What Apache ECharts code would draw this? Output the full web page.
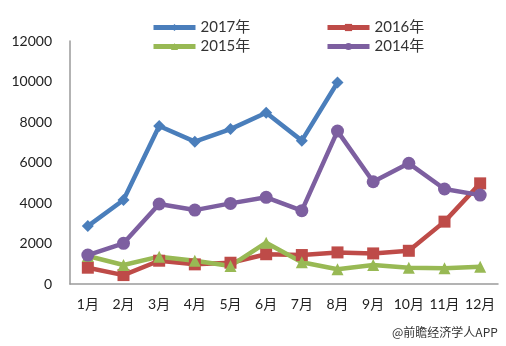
<!DOCTYPE html>
<html><head><meta charset="utf-8">
<script src="https://cdn.jsdelivr.net/npm/echarts@6/dist/echarts.min.js"></script>
<style>html,body{margin:0;padding:0;background:#fff}#c{width:506px;height:346px}</style>
</head><body><div id="c"></div>
<script>
var categories = ['1月','2月','3月','4月','5月','6月','7月','8月','9月','10月','11月','12月'];
var s2017 = [2860, 4150, 7800, 7030, 7650, 8460, 7080, 9950];
var s2016 = [805, 440, 1150, 970, 1050, 1470, 1430, 1560, 1510, 1640, 3080, 4970];
var s2015 = [1380, 940, 1350, 1150, 890, 2040, 1070, 725, 940, 805, 775, 855];
var s2014 = [1430, 2010, 3950, 3650, 3980, 4280, 3620, 7550, 5050, 5960, 4690, 4390];
var names = ['2017年','2016年','2015年','2014年'];
var yTicks = {min: 0, max: 12000, interval: 2000};

var font = 'Lato, "Noto Sans CJK SC", sans-serif';
var chart = echarts.init(document.getElementById('c'));
function mkLegend(name, left, top) {
  return {data: [name], left: left, top: top, itemWidth: 42, itemHeight: 9, itemGap: 4,
    lineStyle: {width: 5},
    textStyle: {fontFamily: font, fontSize: 15, color: '#333'}};
}
function ser(name, data, color, symbol, size) {
  return {name: name, type: 'line', data: data, symbol: symbol, symbolSize: size,
    lineStyle: {width: 4.5, color: color}, itemStyle: {color: color}, animation: false};
}
chart.setOption({
  animation: false,
  legend: [mkLegend(names[0], 146, 15), mkLegend(names[1], 320, 15), mkLegend(names[2], 146, 34), mkLegend(names[3], 320, 34)],
  grid: {left: 70, right: 8, top: 41, bottom: 62},
  xAxis: {type: 'category', data: categories, boundaryGap: true,
    axisLine: {lineStyle: {color: '#9a9a9a', width: 1.5}}, axisTick: {show: false},
    axisLabel: {fontFamily: font, fontSize: 14, color: '#222', margin: 13, interval: 0}},
  yAxis: {type: 'value', min: yTicks.min, max: yTicks.max, interval: yTicks.interval,
    splitLine: {show: false},
    axisLine: {show: true, lineStyle: {color: '#9a9a9a', width: 1.5}}, axisTick: {show: false},
    axisLabel: {fontFamily: font, fontSize: 14, color: '#222', margin: 18, formatter: function (v) { return String(v); }}},
  series: [
    ser(names[0], s2017, '#4a7ebb', 'diamond', 12),
    ser(names[1], s2016, '#be4b48', 'rect', 12),
    ser(names[2], s2015, '#98b954', 'triangle', 12),
    ser(names[3], s2014, '#7d5fa0', 'circle', 13)
  ],
  graphic: [{type: 'text', left: 392, top: 326, style: {text: '@前瞻经济学人APP', font: '12px "Noto Sans CJK SC", sans-serif', fill: '#333'}}]
});
</script></body></html>
